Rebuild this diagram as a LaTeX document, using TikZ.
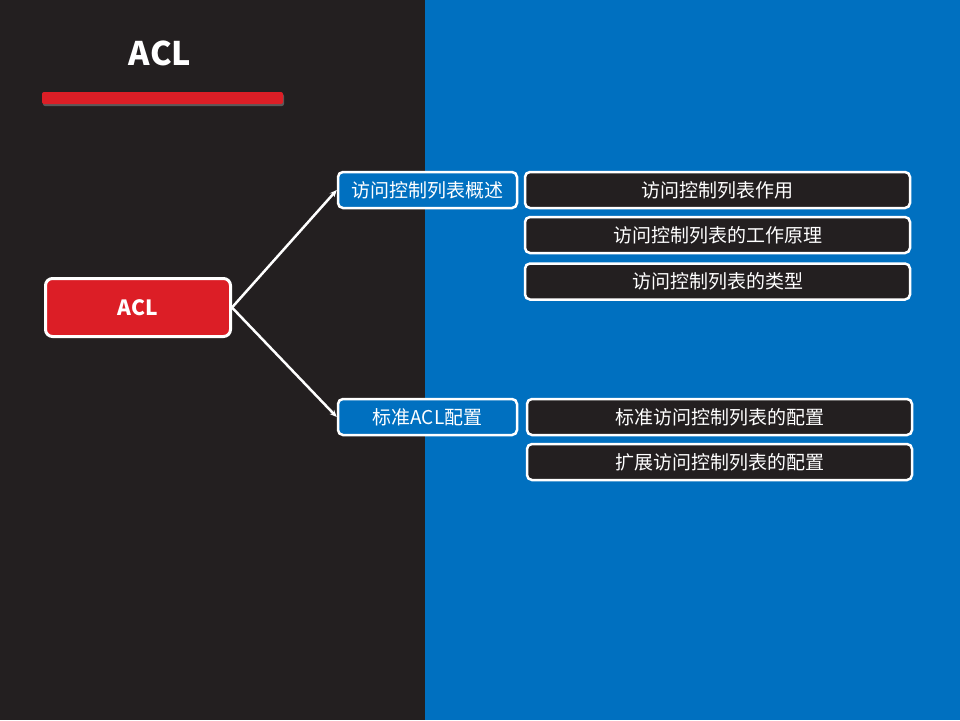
\documentclass[tikz,border=0pt]{standalone}
\usepackage{fontspec}
\setmainfont{Noto Sans CJK SC}
\usetikzlibrary{arrows.meta,shadows}
\definecolor{darkbg}{HTML}{231F20}
\definecolor{bluebg}{HTML}{0070C0}
\definecolor{redbox}{HTML}{DC1E26}

\begin{document}
\begin{tikzpicture}[x=1pt,y=-1pt,
    rootbox/.style={draw=white,line width=3pt,fill=redbox,rounded corners=7pt,
        minimum width=185pt,minimum height=58pt,inner sep=0pt,text=white,
        font=\fontsize{21}{24}\selectfont\bfseries},
    topicbox/.style={draw=white,line width=2.5pt,fill=bluebg,rounded corners=5pt,
        minimum width=179pt,minimum height=36pt,inner sep=0pt,text=white,
        font=\fontsize{19}{22}\selectfont},
    leafbox/.style={draw=white,line width=2.5pt,fill=darkbg,rounded corners=5pt,
        minimum width=385pt,minimum height=36pt,inner sep=0pt,text=white,
        font=\fontsize{19}{22}\selectfont},
    link/.style={draw=white,line width=2.5pt,-{Stealth[length=7pt,width=6pt]}}]
                % background
                \fill[darkbg] (0,0) rectangle (425,720);
                \fill[bluebg] (425,0) rectangle (960,720);
                \useasboundingbox (0,0) rectangle (960,720);

                % title
                \node[text=white,font=\fontsize{32.5}{36}\selectfont\bfseries] (title) at (160,53) {ACL};
                \fill[redbox,rounded corners=2pt,drop shadow={shadow xshift=1pt,shadow yshift=-2pt,opacity=0.6}]
                    (42,92) rectangle (283,104);

                % root
                \node[rootbox] (acl) at (138,307.5) {ACL};

                % topics
                \node[topicbox] (intro) at (427.5,190) {访问控制列表概述};
                \node[topicbox] (config) at (427.5,417) {标准ACL配置};

                % leaves
                \node[leafbox] (use) at (717.5,190) {访问控制列表作用};
                \node[leafbox] (work) at (717.5,235) {访问控制列表的工作原理};
                \node[leafbox] (type) at (717.5,281.5) {访问控制列表的类型};

                \node[leafbox] (stdcfg) at (719.5,417) {标准访问控制列表的配置};
                \node[leafbox] (extcfg) at (719.5,462) {扩展访问控制列表的配置};

                \draw[link] (acl.east) -- (intro.west);
                \draw[link] (acl.east) -- (config.west);
            \end{tikzpicture}
\end{document}
